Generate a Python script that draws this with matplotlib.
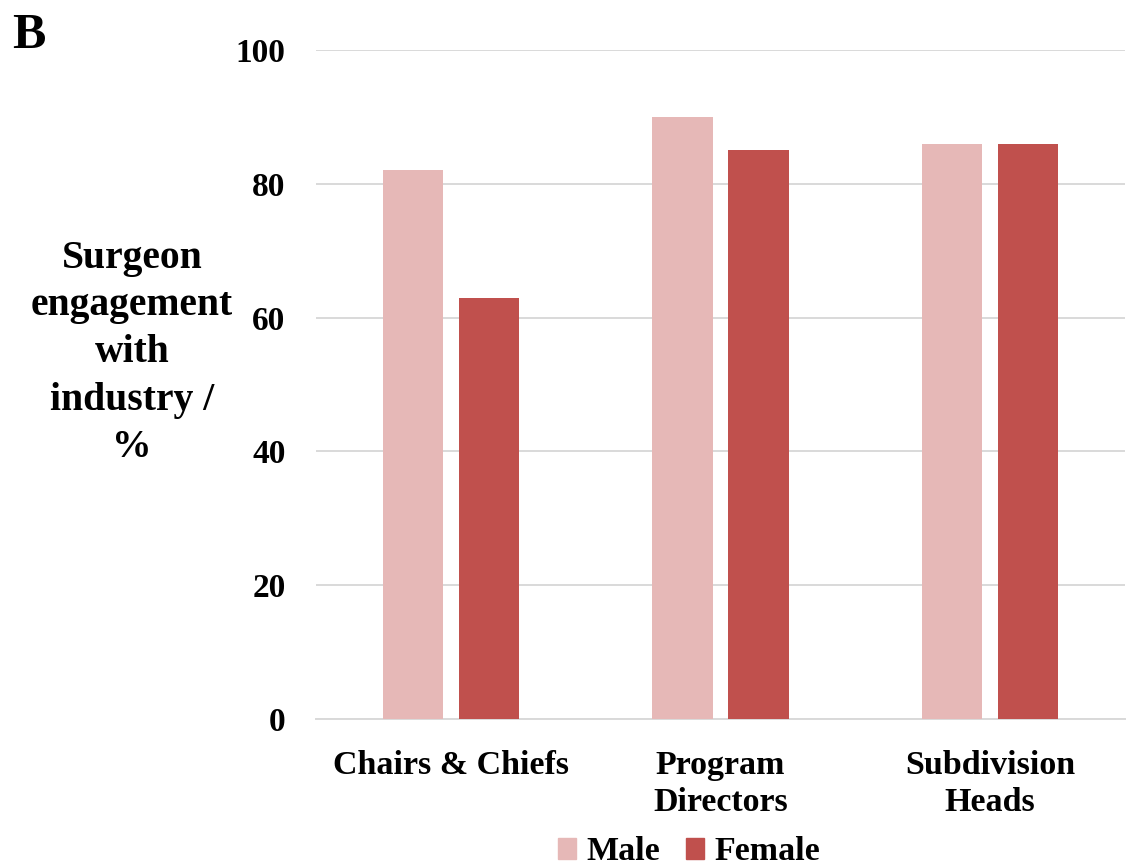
import matplotlib
matplotlib.use("Agg")
import matplotlib.pyplot as plt
import numpy as np
from matplotlib.patches import Patch

categories = ["Chairs & Chiefs", "Program\nDirectors", "Subdivision\nHeads"]
series_names = ["Male", "Female"]
male = [82, 90, 86]
female = [63, 85, 86]
yticks = [0, 20, 40, 60, 80, 100]

c_male = "#E6B8B7"
c_female = "#C0504D"

plt.rcParams['font.family'] = ['Liberation Serif', 'DejaVu Serif']
plt.rcParams['font.weight'] = 'bold'

fig = plt.figure(figsize=(11.31, 8.67), dpi=100)
ax = fig.add_axes([316/1131, 1-719/867, (1125-316)/1131, (719-50)/867])

x = np.arange(len(categories))
w = 0.223
off = 0.141
ax.bar(x - off, male, w, color=c_male, label=series_names[0], zorder=3)
ax.bar(x + off, female, w, color=c_female, label=series_names[1], zorder=3)

ax.set_xlim(-0.5, len(categories) - 0.5)
ax.set_ylim(0, 100)
ax.set_yticks(yticks)
ax.set_yticklabels([str(v) for v in yticks], fontsize=24, fontweight='bold')
ax.set_xticks(x)
ax.set_xticklabels(categories, fontsize=24.5, fontweight='bold', linespacing=1.25)
ax.tick_params(axis='y', length=0, pad=22)
ax.tick_params(axis='x', length=0, pad=22)
ax.grid(axis='y', color='#d9d9d9', linewidth=1.4, zorder=0)
for s in ['top', 'right', 'left']:
    ax.spines[s].set_visible(False)
ax.spines['bottom'].set_color('#d9d9d9')
ax.spines['bottom'].set_linewidth(1.4)
ax.spines['bottom'].set_zorder(2)

fig.text(132/1131, 1-353/867, "Surgeon\nengagement\nwith\nindustry /\n%", ha='center', va='center',
         multialignment='center', fontsize=28.5, fontweight='bold', linespacing=1.36)
fig.text(12/1131, 1-48/867, "B", ha='left', va='baseline', fontsize=36, fontweight='bold')

handles = [Patch(color=c_male, label=series_names[0]), Patch(color=c_female, label=series_names[1])]
fig.legend(handles=handles, loc='center', bbox_to_anchor=(689/1131, 1-852/867), ncol=2, frameon=False,
           prop={'size': 24.5, 'weight': 'bold'}, handlelength=0.55, handleheight=0.55, handletextpad=0.3,
           columnspacing=0.75, borderaxespad=0, borderpad=0)

fig.savefig("out.png", dpi=100)
